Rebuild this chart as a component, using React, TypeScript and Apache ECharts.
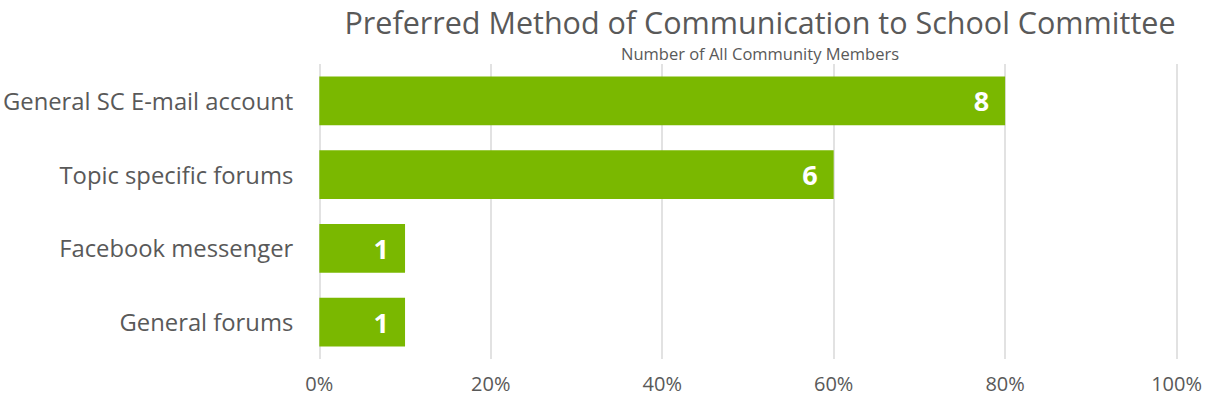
import React, { useEffect, useRef } from "react";
import * as echarts from "echarts";

const categories = ["General SC E-mail account", "Topic specific forums", "Facebook messenger", "General forums"];
const percentValues = [80, 60, 10, 10];
const countLabels = [8, 6, 1, 1];
const xTicks = [0, 20, 40, 60, 80, 100];

const FONT = "'Open Sans', Lato, sans-serif";

export default function App() {
  const ref = useRef<HTMLDivElement>(null);
  useEffect(() => {
    document.body.style.margin = "0";
    const chart = echarts.init(ref.current!, null, { renderer: "svg" });
    chart.setOption({
      animation: false,
      backgroundColor: "#ffffff",
      title: [
        {
          text: "Preferred Method of Communication to School Committee",
          left: 760,
          textAlign: "center",
          top: 5,
          padding: 0,
          textStyle: { fontFamily: FONT, fontSize: 30.5, fontWeight: "normal", color: "#595959", lineHeight: 34 },
        },
        {
          text: "Number of All Community Members",
          left: 760,
          textAlign: "center",
          top: 45,
          padding: 0,
          textStyle: { fontFamily: FONT, fontSize: 16.5, fontWeight: "normal", color: "#595959", lineHeight: 16 },
        },
      ],
      grid: { left: 319, right: 28, top: 64, bottom: 43, containLabel: false },
      xAxis: {
        type: "value",
        min: xTicks[0],
        max: xTicks[xTicks.length - 1],
        interval: 20,
        axisLine: { show: false },
        axisTick: { show: false },
        splitLine: { show: true, lineStyle: { color: "#d9d9d9", width: 1.5 } },
        axisLabel: {
          formatter: "{value}%",
          fontFamily: FONT,
          fontSize: 20,
          color: "#595959",
          margin: 14,
        },
      },
      yAxis: {
        type: "category",
        inverse: true,
        data: categories,
        axisLine: { show: false },
        axisTick: { show: false },
        axisLabel: { fontFamily: FONT, fontSize: 23.8, color: "#595959", margin: 26 },
      },
      series: [
        {
          type: "bar",
          data: percentValues,
          barCategoryGap: "34%",
          itemStyle: { color: "#7AB800" },
          label: {
            show: true,
            position: "insideRight",
            distance: 16,
            formatter: (p: any) => String(countLabels[p.dataIndex]),
            fontFamily: FONT,
            fontSize: 27,
            fontWeight: "bold",
            color: "#ffffff",
          },
        },
      ],
    });
    return () => chart.dispose();
  }, []);
  return <div ref={ref} style={{ width: 1205, height: 402 }} />;
}
